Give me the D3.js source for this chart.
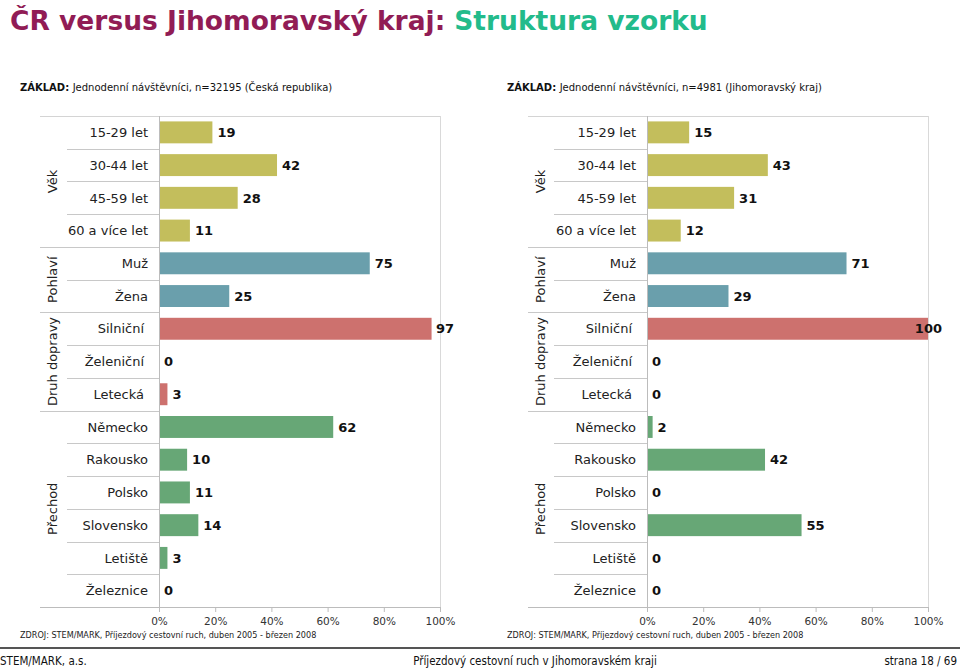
<!DOCTYPE html>
<html><head><meta charset="utf-8">
<script src="https://cdn.jsdelivr.net/npm/d3@7"></script>
<style>body{margin:0;background:#fff}svg{display:block}</style>
</head><body>
<svg id="c" width="960" height="668"></svg>
<script>
const categories = ["15-29 let","30-44 let","45-59 let","60 a více let","Muž","Žena","Silniční","Želeniční","Letecká","Německo","Rakousko","Polsko","Slovensko","Letiště","Železnice"];
const groupNames = ["Věk","Pohlaví","Druh dopravy","Přechod"];
const groupSizes = [4,2,3,6];
const valuesCR = [19,42,28,11,75,25,97,0,3,62,10,11,14,3,0];
const valuesJM = [15,43,31,12,71,29,100,0,0,2,42,0,55,0,0];
const tickValues = [0,20,40,60,80,100];
const titleA = "ČR versus Jihomoravský kraj:";
const titleB = "Struktura vzorku";
const baseCR = "Jednodenní návštěvníci,  n=32195 (Česká republika)";
const baseJM = "Jednodenní návštěvníci, n=4981 (Jihomoravský kraj)";
const sourceText = "ZDROJ: STEM/MARK, Příjezdový cestovní ruch,  duben 2005 - březen 2008";

const groupColors = ["#c3be5c","#6a9fac","#cd716e","#67a776"];
const labelShift = [0,0,4,0];
const font = "Verdana, 'DejaVu Sans', sans-serif";
const svg = d3.select("#c");

// title
const tA = svg.append("text").attr("x",10).attr("y",30).attr("font-family",font)
  .attr("font-weight","bold").attr("font-size",26.5).attr("fill","#911c55").text(titleA);
const wA = tA.node().getComputedTextLength();
svg.append("text").attr("x",10 + wA + 9).attr("y",30).attr("font-family",font)
  .attr("font-weight","bold").attr("font-size",26.5).attr("fill","#22bb8b").text(titleB);

// group index per category
const groupIdx = [];
groupSizes.forEach((n,g)=>{for(let i=0;i<n;i++)groupIdx.push(g);});

function panel(values, base, L){
  const y = d3.scaleBand().domain(categories).range([116,607]).paddingInner(0.33).paddingOuter(0.165);
  const x = d3.scaleLinear().domain([0,100]).range([L.x0,L.x1]);
  const g = svg.append("g");
  const bw = y.step();
  const top = y.range()[0], bottom = y.range()[1];
  // base text
  const bt = g.append("text").attr("x",L.baseX).attr("y",91).attr("font-family",font).attr("font-size",10).attr("fill","#111");
  bt.append("tspan").attr("font-weight","bold").text("ZÁKLAD: ");
  bt.append("tspan").text(base);
  // frame lines
  g.append("line").attr("x1",L.gx).attr("x2",L.x1).attr("y1",top+.5).attr("y2",top+.5).attr("stroke","#d4d4d4");
  g.append("line").attr("x1",L.gx).attr("x2",L.x1).attr("y1",bottom+.5).attr("y2",bottom+.5).attr("stroke","#bcbcbc");
  g.append("line").attr("x1",L.x1+.5).attr("x2",L.x1+.5).attr("y1",top).attr("y2",bottom).attr("stroke","#d9d9d9");
  // row separators
  let acc = 0;
  const groupStart = [];
  groupSizes.forEach(n=>{groupStart.push(acc);acc+=n;});
  categories.forEach((c,i)=>{
    if(i===0) return;
    const yy = Math.round(top + i*bw)+.5;
    const isGroup = groupStart.includes(i);
    g.append("line").attr("x1",isGroup?L.gx:L.rx).attr("x2",L.x0).attr("y1",yy).attr("y2",yy).attr("stroke","#c8c8c8");
  });
  // bars
  g.selectAll("rect.bar").data(values).join("rect").attr("class","bar")
    .attr("x",x(0)).attr("y",(d,i)=>y(categories[i]))
    .attr("width",d=>x(d)-x(0)).attr("height",y.bandwidth())
    .attr("fill",(d,i)=>groupColors[groupIdx[i]]);
  // value labels
  g.selectAll("text.val").data(values).join("text").attr("class","val")
    .attr("x",d=>x(d)+5).attr("y",(d,i)=>y(categories[i])+y.bandwidth()/2)
    .attr("dy","0.36em").attr("font-family",font).attr("font-weight","bold").attr("font-size",13).attr("fill","#111")
    .text(d=>d)
    .each(function(d){
      const w = this.getComputedTextLength();
      const maxX = L.x1 + 14 - w;
      if (x(d)+5 > maxX) d3.select(this).attr("x", maxX);
    });
  // category labels
  g.selectAll("text.cat").data(categories).join("text").attr("class","cat")
    .attr("x",(c,i)=>L.lx-labelShift[groupIdx[i]]).attr("y",c=>y(c)+y.bandwidth()/2).attr("dy","0.36em")
    .attr("text-anchor","end").attr("font-family",font).attr("font-size",13).attr("fill","#222").text(c=>c);
  // group labels
  groupNames.forEach((n,gi)=>{
    const cy = top + (groupStart[gi] + groupSizes[gi]/2)*bw;
    g.append("text").attr("transform",`translate(${L.glx},${cy}) rotate(-90)`).attr("text-anchor","middle")
      .attr("dy","0.36em").attr("font-family",font).attr("font-size",13).attr("fill","#222").text(n);
  });
  // axis
  const ax = g.append("g").attr("transform",`translate(0,${bottom})`)
    .call(d3.axisBottom(x).tickValues(tickValues).tickSize(5).tickPadding(6).tickFormat(d=>d+"%"));
  ax.select(".domain").remove();
  ax.selectAll("line").attr("stroke","#bcbcbc");
  ax.selectAll("text").attr("font-family",font).attr("font-size",10.5).attr("fill","#333");
  g.append("line").attr("x1",L.x0+.5).attr("x2",L.x0+.5).attr("y1",top).attr("y2",bottom+5).attr("stroke","#bcbcbc");
  // source
  g.append("text").attr("x",L.baseX).attr("y",638).attr("font-family","'DejaVu Sans Condensed','DejaVu Sans',sans-serif")
    .attr("font-stretch","condensed").attr("font-size",9).attr("fill","#222").text(sourceText);
}

panel(valuesCR, baseCR, {x0:159,x1:440,gx:40,rx:67,lx:148,glx:52,baseX:20});
panel(valuesJM, baseJM, {x0:647,x1:928,gx:528,rx:554,lx:636,glx:540,baseX:507});

// footer
svg.append("rect").attr("x",0).attr("y",647).attr("width",960).attr("height",2).attr("fill","#555");
const ff = "'DejaVu Sans Condensed','DejaVu Sans',sans-serif";
svg.append("text").attr("x",0).attr("y",665).attr("font-family",ff).attr("font-stretch","condensed").attr("font-size",11.5).attr("fill","#111").text("STEM/MARK, a.s.");
svg.append("text").attr("x",535).attr("y",665).attr("text-anchor","middle").attr("font-family",ff).attr("font-stretch","condensed").attr("font-size",11.5).attr("fill","#111").text("Příjezdový cestovní ruch v Jihomoravském kraji");
svg.append("text").attr("x",957).attr("y",665).attr("text-anchor","end").attr("font-family",ff).attr("font-stretch","condensed").attr("font-size",11.5).attr("fill","#111").text("strana 18 / 69");
</script>
</body></html>
